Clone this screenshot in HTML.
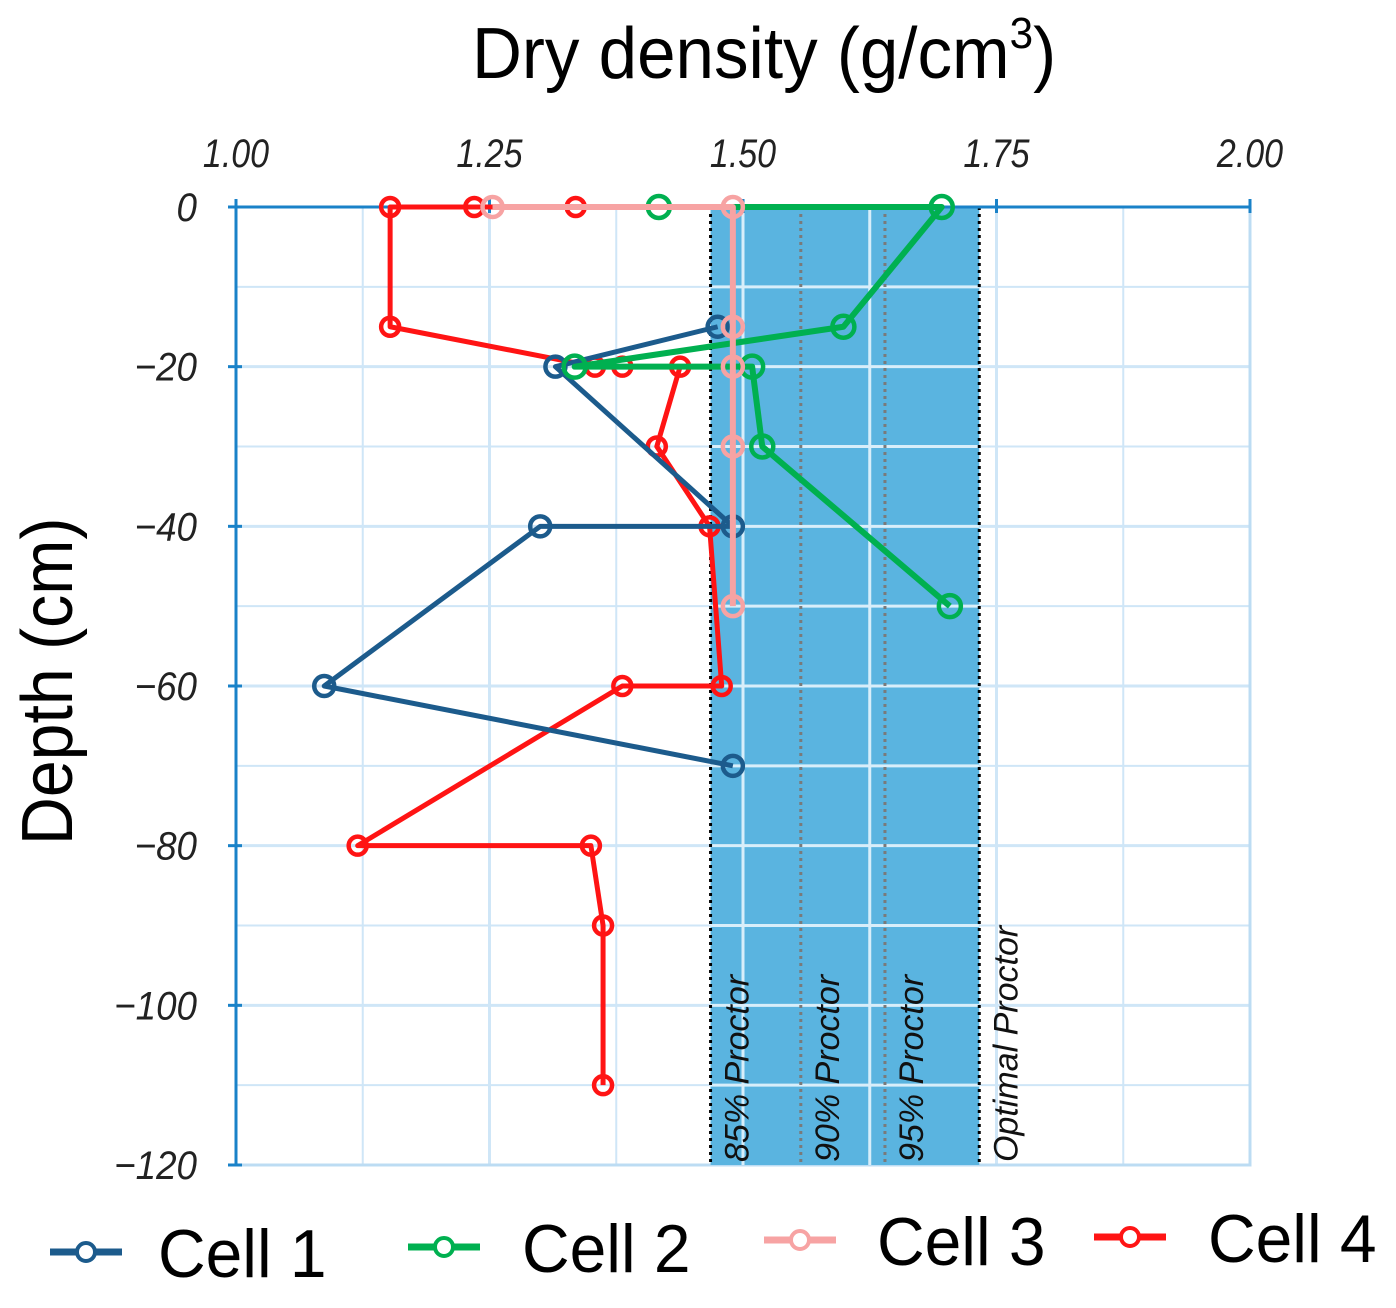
<!DOCTYPE html>
<html><head><meta charset="utf-8">
<style>
html,body{margin:0;padding:0;background:#fff;}
body{width:1396px;height:1303px;overflow:hidden;}
svg text{font-family:"Liberation Sans",sans-serif;}
</style></head><body>
<svg id="chart" width="1396" height="1303" viewBox="0 0 1396 1303" xmlns="http://www.w3.org/2000/svg">
<g id="grid"></g>
<g id="bands"></g>
<g id="axes"></g>
<g id="series"></g>
<text x="0" y="0" font-size="72" transform="translate(472,78) scale(0.96,1)">Dry density (g/cm<tspan font-size="44" dy="-30">3</tspan><tspan dy="30">)</tspan></text>
<text font-size="72" transform="translate(72,845) rotate(-90) scale(0.92,1)">Depth (cm)</text>
<g id="legend"></g>
</svg>
<script>
const xTicks=[1.00,1.25,1.50,1.75,2.00];
const xTickLabels=["1.00","1.25","1.50","1.75","2.00"];
const yTicks=[0,-20,-40,-60,-80,-100,-120];
const yTickLabels=["0","\u221220","\u221240","\u221260","\u221280","\u2212100","\u2212120"];
const proctorValues=[1.468,1.557,1.64,1.733];
const proctorLabels=["85% Proctor","90% Proctor","95% Proctor","Optimal Proctor"];
const seriesNames=["Cell 1","Cell 2","Cell 3","Cell 4"];
const cell1X=[1.475,1.315,1.49,1.30,1.087,1.49];
const cell1Y=[-15,-20,-40,-40,-60,-70];
const cell2X=[1.417,1.696,1.599,1.334,1.509,1.519,1.704];
const cell2Y=[0,0,-15,-20,-20,-30,-50];
const cell3X=[1.253,1.49,1.49,1.49,1.49,1.49];
const cell3Y=[0,0,-15,-20,-30,-50];
const cell4X=[1.335,1.235,1.152,1.152,1.354,1.381,1.438,1.415,1.467,1.479,1.381,1.12,1.35,1.362,1.362];
const cell4Y=[0,0,0,-15,-20,-20,-20,-30,-40,-60,-60,-80,-80,-90,-110];

const NS="http://www.w3.org/2000/svg";
const X0=236,X1=1250,Y0=207,Y1=1165;
function sx(v){return X0+(v-1)*(X1-X0);}
function sy(v){return Y0+(-v)*(Y1-Y0)/120;}
function mk(tag,attrs,parent){const e=document.createElementNS(NS,tag);for(const k in attrs)e.setAttribute(k,attrs[k]);parent.appendChild(e);return e;}
const grid=document.getElementById('grid'),bands=document.getElementById('bands'),axes=document.getElementById('axes'),series=document.getElementById('series'),legend=document.getElementById('legend');

for(let v=1;v<=2.0001;v+=0.125){const l=mk('line',{x1:sx(v),x2:sx(v),y1:Y0,y2:Y1,stroke:'#cfe6f7','stroke-width':(Math.abs((v*4)-Math.round(v*4))<1e-6)?3:2},grid);

}
for(let d=0;d>=-120;d-=10){const l=mk('line',{x1:X0,x2:X1,y1:sy(d),y2:sy(d),stroke:'#cfe6f7','stroke-width':(d%20===0)?3:2},grid);

}
const br=mk('rect',{x:X0,y:Y0,width:X1-X0,height:Y1-Y0,fill:'none',stroke:'#bcdcf3','stroke-width':3},grid);



const band=mk('rect',{x:sx(proctorValues[0]),y:Y0,width:sx(proctorValues[3])-sx(proctorValues[0]),height:Y1-Y0,fill:'#5ab4e0'},bands);


for(let d=-10;d>=-110;d-=10){const l=mk('line',{x1:sx(proctorValues[0]),x2:sx(proctorValues[3]),y1:sy(d),y2:sy(d),stroke:'#d8eefa','stroke-width':3},bands);

}
for(let v=1.5;v<=1.7;v+=0.125){const l=mk('line',{x1:sx(v),x2:sx(v),y1:Y0,y2:Y1,stroke:'#d8eefa','stroke-width':3},bands);

}
proctorValues.forEach((v,i)=>{
 const l=mk('line',{x1:sx(v),x2:sx(v),y1:Y0,y2:Y1,stroke:(i==1||i==2)?'#7a7a7a':'#000','stroke-width':3,'stroke-dasharray':'3,4'},bands);
 
 
 const t=mk('text',{'font-size':34,'font-style':'italic',fill:'#111',transform:`translate(${sx(v)+38},${Y1-3}) rotate(-90) scale(1.0,1)`},bands);
 t.textContent=proctorLabels[i];
 
 
});

const ax1=mk('line',{x1:X0,x2:X0,y1:Y0-6,y2:Y1,stroke:'#1a82c8','stroke-width':3},axes);


const ax2=mk('line',{x1:X0-6,x2:X1,y1:Y0,y2:Y0,stroke:'#1a82c8','stroke-width':3},axes);


xTicks.forEach((v,i)=>{
 const tk=mk('line',{x1:sx(v),x2:sx(v),y1:Y0-8,y2:Y0+6,stroke:'#1a82c8','stroke-width':3},axes);
 
 
 const t=mk('text',{'font-size':40,'font-style':'italic','text-anchor':'middle',fill:'#222',transform:`translate(${sx(v)},${167}) scale(0.85,1)`},axes);
 t.textContent=xTickLabels[i];
 
 
});
yTicks.forEach((v,i)=>{
 const tk=mk('line',{x1:X0-8,x2:X0+6,y1:sy(v),y2:sy(v),stroke:'#1a82c8','stroke-width':3},axes);
 
 
 const t=mk('text',{'font-size':40,'font-style':'italic','text-anchor':'end',fill:'#222',transform:`translate(${197},${sy(v)+14}) scale(0.92,1)`},axes);
 t.textContent=yTickLabels[i];
 
 
});

const colors=['#1c5b8c','#00b050','#f7a3a3','#ff1414'];
const radii=[10,11,10,9];
const widths=[5,6,6,5];
const data=[[cell4X,cell4Y],[cell1X,cell1Y],[cell2X,cell2Y],[cell3X,cell3Y]];
const order=[3,0,1,2];
data.forEach((d,k)=>{
 const ci=order[k];
 const g=mk('g',{},series);
 
 
 const pts=d[0].map((x,j)=>sx(x)+','+sy(d[1][j])).join(' ');
 const pl=mk('polyline',{points:pts,fill:'none',stroke:colors[ci],'stroke-width':widths[ci],'stroke-linejoin':'round'},g);
 
 
 d[0].forEach((x,j)=>{
  const c=mk('circle',{cx:sx(x),cy:sy(d[1][j]),r:radii[ci],fill:'none',stroke:colors[ci],'stroke-width':4.5},g);
  
  
 });
});

const legPos=[[50,158,1252],[408,522,1247],[764,877,1240],[1094,1208,1237]];
seriesNames.forEach((n,i)=>{
 const [lx,tx,ly]=legPos[i];
 const g=mk('g',{},legend);
 
 
 const l=mk('line',{x1:lx,x2:lx+72,y1:ly,y2:ly,stroke:colors[i],'stroke-width':7},g);
 
 
 const c=mk('circle',{cx:lx+36,cy:ly,r:9,fill:'#fff',stroke:colors[i],'stroke-width':4},g);
 
 
 const t=mk('text',{'font-size':68,fill:'#000',transform:`translate(${tx},${ly+25}) scale(0.97,1)`},g);
 t.textContent=n;
 
 
});
</script>
</body></html>
